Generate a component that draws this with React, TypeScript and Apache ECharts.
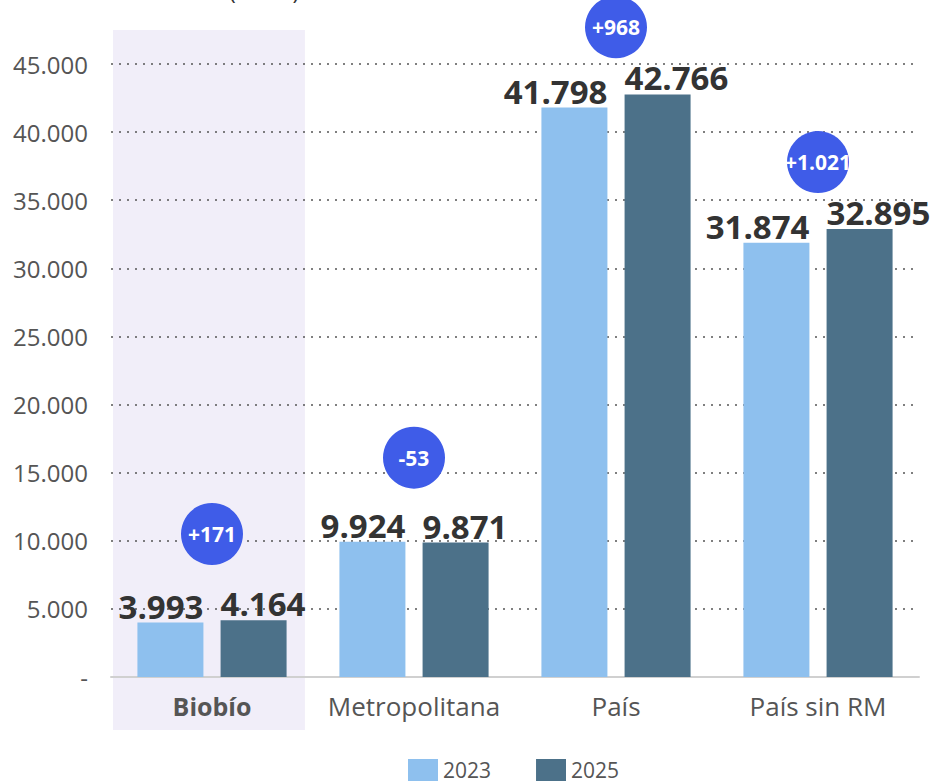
import React, { useEffect, useRef } from "react";
import * as echarts from "echarts";

const categories = ["Biobío", "Metropolitana", "País", "País sin RM"];
const values2023 = [3993, 9924, 41798, 31874];
const values2025 = [4164, 9871, 42766, 32895];
const bubbleLevels = [10500, 16100, 47700, 37800];
const yTicksMax = 45000;

const fmt = (n: number) => {
  const s = Math.abs(n).toString().replace(/\B(?=(\d{3})+(?!\d))/g, ".");
  return (n < 0 ? "-" : "") + s;
};
const signed = (n: number) => (n > 0 ? "+" : "") + fmt(n);

const FONT = "'Open Sans', 'Noto Sans', sans-serif";
const BAR_W = 66;

const valueLabel = (align: string, dx: number) => ({
  show: true,
  position: "top",
  distance: 0,
  align,
  offset: [dx, 0],
  fontSize: 33,
  fontWeight: "bold",
  color: "#333",
  fontFamily: FONT,
  formatter: (p: any) => fmt(p.value),
});

export default function App() {
  const ref = useRef<HTMLDivElement>(null);
  useEffect(() => {
    if (!ref.current) return;
    const chart = echarts.init(ref.current, undefined, { renderer: "svg" });
    const diffs = values2025.map((v, i) => v - values2023[i]);
    chart.setOption({
      animation: false,
      textStyle: { fontFamily: FONT },
      grid: { left: 111, right: 11, top: 64, bottom: 104, containLabel: false },
      legend: {
        top: 754,
        left: 403,
        itemWidth: 30,
        itemHeight: 22,
        itemGap: 45,
        icon: "rect",
        textStyle: { fontSize: 21, color: "#555", fontFamily: FONT },
        data: ["2023", "2025"],
      },
      xAxis: {
        type: "category",
        data: categories,
        axisLine: { lineStyle: { color: "#d0d0d0", width: 2 } },
        axisTick: { show: false },
        axisLabel: {
          interval: 0,
          margin: 16,
          fontSize: 26,
          color: "#555",
          fontFamily: FONT,
          formatter: (v: string, i: number) => (i === 0 ? `{b|${v}}` : v),
          rich: { b: { fontWeight: "bold", fontSize: 25, color: "#555", fontFamily: FONT } },
        },
      },
      yAxis: {
        type: "value",
        min: 0,
        max: yTicksMax,
        interval: 5000,
        axisLine: { show: false },
        axisTick: { show: false },
        axisLabel: {
          margin: 23,
          fontSize: 24,
          color: "#555",
          fontFamily: FONT,
          formatter: (v: number) => (v === 0 ? "-" : fmt(v)),
        },
        splitLine: {
          show: true,
          lineStyle: { color: "#555", width: 1.5, type: [2, 6] },
        },
      },
      series: [
        {
          name: "2023",
          type: "bar",
          data: values2023,
          barWidth: BAR_W,
          barGap: "26%",
          itemStyle: { color: "#8ec0ee" },
          label: valueLabel("right", BAR_W / 2),
          z: 2,
        },
        {
          name: "2025",
          type: "bar",
          data: values2025,
          barWidth: BAR_W,
          itemStyle: { color: "#4c7189" },
          label: valueLabel("left", -BAR_W / 2),
          z: 2,
        },
        {
          name: "diff",
          type: "scatter",
          clip: false,
          symbol: "circle",
          symbolSize: 62,
          data: bubbleLevels.map((y, i) => [i, y]),
          itemStyle: { color: "#3f5ce8", opacity: 1 },
          label: {
            show: true,
            position: "inside",
            fontSize: 21,
            fontWeight: "bold",
            color: "#fff",
            fontFamily: FONT,
            formatter: (p: any) => signed(diffs[p.dataIndex]),
          },
          z: 5,
        },
      ],
    });

    const c0 = chart.convertToPixel({ xAxisIndex: 0 }, categories[0]) as number;
    const c1 = chart.convertToPixel({ xAxisIndex: 0 }, categories[1]) as number;
    const bw = c1 - c0;
    chart.setOption({
      graphic: [
        {
          type: "rect",
          z: -10,
          shape: { x: c0 - bw / 2 + 2, y: 30, width: bw * 0.95, height: 700 },
          style: { fill: "#f1eef9" },
          silent: true,
        },
        {
          type: "text",
          z: 10,
          left: 229,
          top: -22,
          style: { text: "(miles)", fontSize: 23, fill: "#333", fontFamily: FONT },
        },
      ],
    });

    return () => chart.dispose();
  }, []);
  return <div ref={ref} style={{ width: 930, height: 781, position: "absolute", left: 0, top: 0 }} />;
}
